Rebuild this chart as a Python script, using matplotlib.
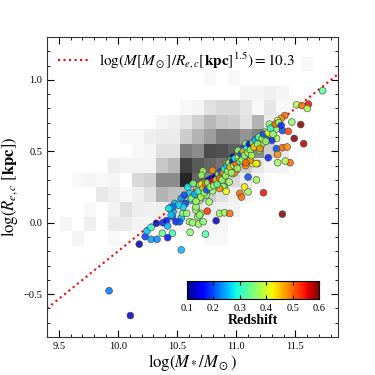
import numpy as np
import matplotlib
matplotlib.use("Agg")
import matplotlib.pyplot as plt
from matplotlib.ticker import MultipleLocator

plt.rcParams['font.family'] = ['Liberation Serif', 'DejaVu Serif']
plt.rcParams['mathtext.fontset'] = 'stix'

# ---- 2D histogram (density), bins ----
x_edges = np.linspace(9.41, 11.848, 25)
y_edges = -0.16 + 0.1017 * np.arange(14)
density = np.array([
 [0,0,.04,0,0,.03,0,0,.03,0,0,0,0,.03,.03,0,0,0,0,0,0,0,0,0],
 [0,.04,0,.07,0,.08,.08,.05,.04,.04,.04,.05,.04,.05,.04,0,0,0,0,0,0,0,0,0],
 [0,0,0,.03,0,.05,.12,.07,.06,.07,.15,.10,.12,.08,.06,.05,0,0,0,0,0,0,0,0],
 [0,0,0,0,.09,.06,.03,.06,.12,.30,.25,.25,.30,.20,.12,.06,.05,0,0,0,0,0,0,0],
 [0,0,.03,.04,.03,.04,0,.15,.18,.45,.45,.85,.60,.45,.30,.15,.08,.05,0,0,0,0,0,0],
 [0,0,0,0,0,.07,.05,.05,.05,.22,.28,.75,.65,.60,.55,.40,.20,.10,.05,.04,0,0,0,0],
 [0,0,0,0,0,0,0,.03,.04,.12,.12,.50,.45,.70,.68,.62,.55,.45,.20,.08,0,0,0,0],
 [0,0,0,0,0,0,.03,.03,.07,.08,.08,.20,.30,.38,.50,.50,.42,.50,.10,.03,0,0,0,0],
 [0,0,0,0,0,0,0,0,0,.04,.06,.10,.18,.28,.22,.20,.12,.30,.08,.03,0,0,0,0],
 [0,0,0,0,0,0,0,0,0,0,0,.03,.04,.12,.15,.15,.10,.03,.10,.03,0,0,0,0],
 [0,0,0,0,0,0,0,0,0,0,0,0,0,0,0,0,.04,.04,.06,.04,0,0,0,0],
 [0,0,0,0,0,0,0,0,0,0,0,0,0,.03,0,.03,0,0,0,0,0,0,0,0],
 [0,0,0,0,0,0,0,0,0,0,0,0,0,0,0,0,0,0,0,0,0,.03,0,0],
])

# ---- scatter: log stellar mass, log Re, redshift ----
pts = [
 (9.925,-0.476,0.22),(10.105,-0.65,0.13),(10.535,-0.19,0.25),(10.18,-0.15,0.12),
 (10.23,-0.097,0.19),(10.28,-0.116,0.24),(10.245,-0.058,0.26),(10.33,-0.116,0.23),
 (10.28,-0.032,0.30),(10.325,-0.004,0.13),(10.38,0.0,0.18),(10.41,0.014,0.17),
 (10.42,-0.023,0.25),(10.375,-0.074,0.34),(10.46,-0.074,0.31),(10.42,-0.104,0.17),
 (10.46,0.042,0.20),(10.465,0.077,0.25),(10.445,0.107,0.24),(10.535,0.031,0.26),
 (10.49,0.007,0.18),(10.55,0.065,0.35),(10.605,0.007,0.35),(10.61,-0.067,0.36),
 (10.48,0.135,0.25),(10.535,0.17,0.24),(10.57,0.135,0.19),(10.605,0.205,0.27),
 (10.62,0.158,0.26),(10.66,0.088,0.37),(10.675,0.042,0.36),(10.70,0.065,0.38),
 (10.68,-0.009,0.36),(10.74,-0.08,0.32),(10.755,0.081,0.53),(10.83,0.014,0.13),
 (10.86,0.065,0.37),(10.90,0.07,0.36),(10.945,0.065,0.50),(10.69,0.205,0.36),
 (10.77,0.146,0.37),(10.745,0.193,0.35),(10.59,0.25,0.28),(10.635,0.274,0.35),
 (10.69,0.263,0.36),(10.745,0.25,0.20),(10.80,0.263,0.37),(10.90,0.25,0.36),
 (11.03,0.205,0.50),(11.10,0.32,0.20),(11.17,0.30,0.37),(11.23,0.21,0.55),
 (11.39,0.06,0.60),(11.35,0.42,0.37),(11.455,0.42,0.50),(11.415,0.432,0.38),
 (10.718,0.362,0.37),(10.80,0.367,0.48),(10.705,0.332,0.36),(10.765,0.285,0.35),
 (10.887,0.32,0.40),(10.97,0.344,0.42),(10.915,0.414,0.48),(11.01,0.471,0.48),
 (11.08,0.414,0.47),(11.14,0.414,0.42),(11.18,0.414,0.43),(11.07,0.25,0.43),
 (11.10,0.216,0.37),(11.73,0.924,0.33),(11.51,0.825,0.38),(11.556,0.82,0.50),
 (11.61,0.83,0.55),(11.60,0.80,0.38),(11.41,0.75,0.50),(11.38,0.73,0.48),
 (11.35,0.715,0.38),(11.47,0.705,0.36),(11.545,0.687,0.60),(11.28,0.69,0.36),
 (11.31,0.67,0.42),(11.34,0.657,0.36),(11.39,0.645,0.20),(11.44,0.64,0.52),
 (11.49,0.59,0.60),(11.57,0.553,0.58),(11.24,0.634,0.37),(11.26,0.604,0.42),
 (11.34,0.59,0.38),(11.30,0.576,0.18),(11.21,0.604,0.37),(11.185,0.58,0.36),
 (11.16,0.576,0.18),(11.135,0.553,0.42),(11.22,0.553,0.37),(11.26,0.58,0.20),
 (11.34,0.518,0.20),(11.39,0.525,0.50),(11.43,0.53,0.48),(11.35,0.478,0.48),
 (11.27,0.455,0.18),(11.196,0.506,0.36),(11.17,0.53,0.42),(11.11,0.525,0.42),
 (11.08,0.553,0.36),(11.055,0.518,0.20),(11.016,0.506,0.36),(10.97,0.46,0.12),
 (10.999,0.448,0.42),(10.954,0.437,0.30),(11.044,0.437,0.36),(11.12,0.437,0.48),
 (11.168,0.414,0.42),(11.08,0.40,0.48),(10.915,0.39,0.36),(10.94,0.367,0.48),
 (10.887,0.344,0.18),(10.985,0.35,0.48),(10.86,0.32,0.13),(10.80,0.309,0.12),
 (10.76,0.297,0.12),(10.735,0.279,0.42),(10.707,0.27,0.42),(10.77,0.27,0.36),
 (10.83,0.274,0.48),(10.94,0.285,0.37),(10.887,0.255,0.36),(10.86,0.24,0.48),
 (10.915,0.22,0.42),(10.80,0.223,0.36),(11.044,0.18,0.50),(10.56,0.193,0.20),
 (10.63,0.18,0.36),(10.69,0.158,0.36),(10.55,0.111,0.27),(10.66,0.111,0.36),
 (10.58,0.065,0.36),(10.69,0.054,0.36),(10.63,0.0,0.37),(10.72,0.007,0.36),
 (10.52,0.007,0.20),(10.51,0.123,0.27),(10.465,0.111,0.22),(10.43,0.10,0.28),
 (10.45,0.054,0.26),
 (10.62,0.17,0.35),(10.65,0.20,0.25),(10.66,0.15,0.37),(10.68,0.22,0.30),
 (10.70,0.18,0.38),(10.72,0.24,0.45),(10.73,0.21,0.37),(10.74,0.27,0.50),
 (10.75,0.23,0.20),(10.76,0.28,0.36),(10.78,0.25,0.37),(10.79,0.31,0.15),
 (10.80,0.29,0.55),(10.81,0.26,0.36),(10.82,0.32,0.12),(10.83,0.30,0.45),
 (10.84,0.27,0.33),(10.85,0.34,0.37),(10.86,0.31,0.50),(10.87,0.36,0.20),
 (10.88,0.30,0.36),(10.89,0.35,0.47),(10.90,0.38,0.30),(10.91,0.33,0.37),
 (10.92,0.40,0.25),(10.93,0.36,0.37),(10.94,0.42,0.36),(10.95,0.39,0.45),
 (10.96,0.35,0.36),(10.97,0.43,0.12),(10.98,0.40,0.37),(10.99,0.45,0.28),
 (11.00,0.41,0.50),(11.01,0.38,0.37),(11.02,0.46,0.42),(11.03,0.43,0.33),
 (11.04,0.48,0.20),(11.05,0.44,0.37),(11.06,0.50,0.45),(11.07,0.47,0.36),
 (11.08,0.42,0.50),(11.09,0.52,0.30),(11.10,0.49,0.37),(11.11,0.55,0.15),
 (11.12,0.51,0.36),(11.13,0.47,0.38),(11.14,0.56,0.35),(11.15,0.53,0.45),
 (11.16,0.58,0.25),(11.18,0.55,0.37),(11.19,0.60,0.33),(11.20,0.52,0.48),
 (11.22,0.59,0.37),(11.23,0.62,0.20),(11.25,0.57,0.37),(11.27,0.63,0.42),
 (11.29,0.66,0.30),(11.31,0.62,0.36),(11.33,0.69,0.50),(11.36,0.70,0.37),
 (11.38,0.68,0.18),
]
log_mass = np.array([p[0] for p in pts])
log_re = np.array([p[1] for p in pts])
redshift = np.array([p[2] for p in pts])

line_const = 10.3
z_ticks = [0.1, 0.2, 0.3, 0.4, 0.5, 0.6]

fig = plt.figure(figsize=(3.75, 3.75), dpi=100)
ax = fig.add_axes([0.1253, 0.1013, 0.776, 0.80])

dm = np.ma.masked_where(density <= 0, density)
ax.pcolormesh(x_edges, y_edges, dm, cmap='gray_r', vmin=0, vmax=1, zorder=1)

xl = np.array([9.4, 11.86])
ax.plot(xl, (xl - line_const) / 1.5, ':', color='red', lw=1.5, zorder=2,
        label=r'$\log(M[M_\odot]/R_{e,c}[\mathbf{kpc}]^{1.5})=10.3$')

sc = ax.scatter(log_mass, log_re, c=redshift, cmap='jet', vmin=0.1, vmax=0.6,
                s=24, edgecolors='#444444', linewidths=0.5, alpha=0.85, zorder=3)

ax.set_xlim(9.4, 11.86)
ax.set_ylim(-0.8, 1.3)
ax.xaxis.set_major_locator(MultipleLocator(0.5))
ax.xaxis.set_minor_locator(MultipleLocator(0.1))
ax.yaxis.set_major_locator(MultipleLocator(0.5))
ax.yaxis.set_minor_locator(MultipleLocator(0.1))
ax.tick_params(which='both', direction='in', top=True, right=True, labelsize=7.5)
ax.tick_params(which='major', length=5, width=0.8)
ax.tick_params(which='minor', length=2.5, width=0.6)
for s in ax.spines.values():
    s.set_color('#333333')

ax.set_xlabel(r'$\log(M_*/M_\odot)$', fontsize=12, labelpad=1)
ax.set_ylabel(r'$\log(R_{e,c}\ [\mathbf{kpc}])$', fontsize=12, labelpad=2)

leg = ax.legend(loc='upper left', frameon=False, fontsize=11, handlelength=2.2,
                handletextpad=0.5, bbox_to_anchor=(0.0, 0.99), borderaxespad=0.3)

cax = fig.add_axes([0.498, 0.202, 0.353, 0.05])
cb = fig.colorbar(sc, cax=cax, orientation='horizontal', ticks=z_ticks)
cb.solids.set_alpha(1)
cb.ax.tick_params(direction='in', labelsize=7.5, length=3, top=True, bottom=True)
cb.set_label('Redshift', fontsize=10, fontweight='bold', labelpad=1)
cb.outline.set_linewidth(0.8)

fig.savefig('out.png', dpi=100)
